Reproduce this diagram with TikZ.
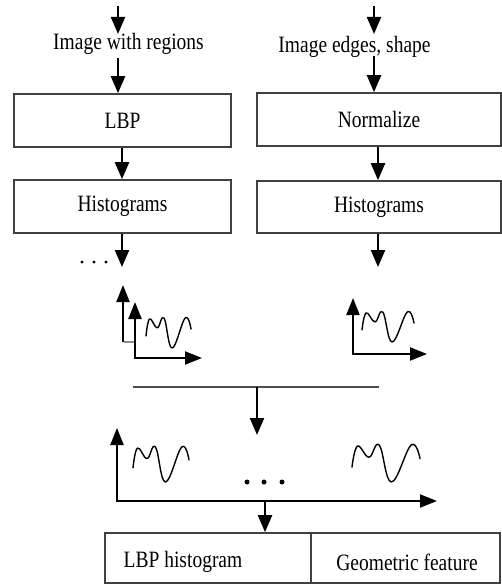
\documentclass[tikz,border=0pt]{standalone}
\usepackage{fontspec}
\usepackage{graphicx}
\setmainfont{Liberation Serif}
\usetikzlibrary{arrows.meta}
\newcommand\tx[1]{\scalebox{1}[1.2]{#1}}
\newcommand\wavecurve[4]{\draw[wave] plot[smooth,tension=0.7] coordinates {({#1},{#2+0.6*#4}) ({#1+0.08*#3},{#2+0.03*#4}) ({#1+0.25*#3},{#2+0.33*#4}) ({#1+0.40*#3},{#2}) ({#1+0.58*#3},{#2+#4}) ({#1+0.87*#3},{#2}) ({#1+#3},{#2+0.37*#4})};}
\begin{document}
\begin{tikzpicture}[x=1pt,y=-1pt,
  every node/.style={font=\fontsize{19.5}{23}\selectfont, inner sep=0pt},
  box/.style={draw=black!75, line width=1.6pt, minimum height=53pt},
  arr/.style={line width=2.2pt, -{Triangle[width=14pt,length=17pt]}},
  axes/.style={line width=2.2pt, {Triangle[width=13pt,length=17pt]}-{Triangle[width=13pt,length=17pt]}},
  wave/.style={line width=1.4pt, line cap=round, line join=round},
  dotsmall/.style={fill=black, circle, minimum size=3.2pt},
  dotbig/.style={fill=black, circle, minimum size=5pt}]
\useasboundingbox (0,0) rectangle (502,585);

% text labels
\node (img1) at (128.5,44) {\tx{Image with regions}};
\node (img2) at (354.5,47) {\tx{Image edges, shape}};

% boxes
\node[box, minimum width=217pt] (lbp) at (122.5,120.5) {\tx{LBP}};
\node[box, minimum width=244pt] (norm) at (379,119.5) {\tx{Normalize}};
\node[box, minimum width=217pt] (hl) at (122.5,206.5) {\tx{Histograms}};
\node[box, minimum width=244pt, minimum height=52pt] (hr) at (379,207) {\tx{Histograms}};

\node[box, minimum height=50pt, minimum width=206pt] (outl) at (208,558) {};
\node[box, minimum height=50pt, minimum width=189pt] (outr) at (405.5,558) {};
\node (tl) at (183,562) {\tx{LBP histogram}};
\node (tr) at (407,562) {\tx{Geometric feature}};

% coordinates
\coordinate (L0) at (118,6);
\coordinate (L1) at (118,34);
\coordinate (L2) at (118,58);
\coordinate (R0) at (374,6);
\coordinate (R1) at (374,34);
\coordinate (R2) at (374,56);
\coordinate (LH) at (122,267);
\coordinate (RH) at (378,267);
\coordinate (M0) at (257,387);
\coordinate (M1) at (257,435);
\coordinate (B0) at (265,501);

% arrows
\draw[arr] (L0) -- (L1);
\draw[arr] (L2) -- (L2 |- lbp.north);
\draw[arr] (R0) -- (R1);
\draw[arr] (R2) -- (R2 |- norm.north);
\draw[arr] (lbp.south -| LH) -- (LH |- hl.north);
\draw[arr] (norm.south -| RH) -- (RH |- hr.north);
\draw[arr] (hl.south -| LH) -- (LH);
\draw[arr] (hr.south -| RH) -- (RH);

% dots left
\node[dotsmall] (d1) at (82,262) {};
\node[dotsmall] (d2) at (94,262) {};
\node[dotsmall] (d3) at (106,262) {};

% small left chart
\draw[line width=2.2pt, -{Triangle[width=13pt,length=17pt]}] (123,342) -- (123,285);
\draw[line width=2.2pt, black!45] (124,342) -- (135,342);
\draw[axes] (135,302) -- (135,358) -- (202,358);
\wavecurve{146}{318}{45}{30}

% small right chart
\draw[axes] (353,298) -- (353,354) -- (427,354);
\wavecurve{362}{312}{52}{30}

% merge line
\coordinate (ML) at (133,387);
\coordinate (MR) at (379,387);
\draw[line width=2pt, black!70] (ML) -- (MR);
\draw[arr] (M0) -- (M1);

% big chart
\draw[axes] (117,428) -- (117,501) -- (437,501);
\wavecurve{133}{447}{56}{35}
\wavecurve{352}{445}{68}{37}
\node[dotbig] (e1) at (247,482) {};
\node[dotbig] (e2) at (264,482) {};
\node[dotbig] (e3) at (282,482) {};

\draw[arr] (B0) -- (B0 |- outl.north);
\end{tikzpicture}
\end{document}
